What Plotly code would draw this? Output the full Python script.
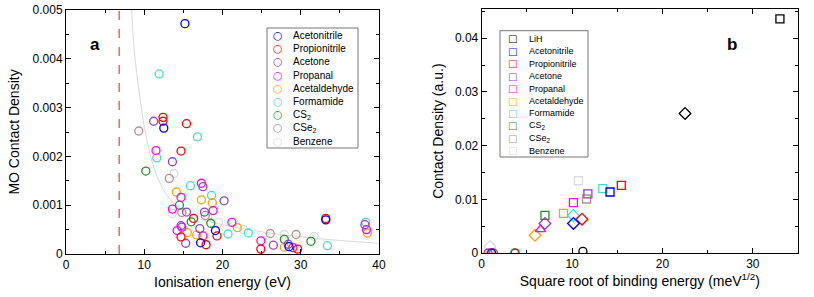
import plotly.graph_objects as go

# ---------------- Panel a: MO contact density vs ionisation energy ----------------
names_a = ["Acetonitrile", "Propionitrile", "Acetone", "Propanal", "Acetaldehyde",
           "Formamide", "CS<sub>2</sub>", "CSe<sub>2</sub>", "Benzene"]
colors = ["#0000ff", "#ff0000", "#8c44c8", "#ff00ff", "#ffa500",
          "#40e0d0", "#1f961f", "#bc8f8f", "#dcdcdc"]

acetonitrile_ie = [15.2, 12.5, 17.2, 19.1, 28.5, 33.2]
acetonitrile_mo = [0.00472, 0.00258, 0.00023, 0.00048, 0.00015, 0.00070]
propionitrile_ie = [12.4, 12.4, 15.4, 14.7, 16.3, 14.7, 17.9, 19.3, 24.9, 29.6, 33.2]
propionitrile_mo = [0.00280, 0.00272, 0.00267, 0.00211, 0.00073, 0.00035, 0.00019,
                    0.00037, 0.00010, 0.00010, 0.00073]
acetone_ie = [11.2, 13.6, 17.5, 20.2, 15.4, 17.7, 14.7, 17.1, 15.3, 26.5, 28.4, 38.2]
acetone_mo = [0.00272, 0.00189, 0.00138, 0.00109, 0.00086, 0.00086, 0.00058, 0.00052,
              0.00022, 0.00018, 0.00020, 0.00060]
propanal_ie = [11.5, 17.3, 14.7, 13.6, 18.8, 14.2, 14.8, 17.5, 21.2, 24.9, 29.0, 38.4]
propanal_mo = [0.00212, 0.00145, 0.00116, 0.00092, 0.00089, 0.00048, 0.00055, 0.00037,
               0.00065, 0.00027, 0.00013, 0.00050]
acetaldehyde_ie = [14.1, 17.3, 18.7, 15.5, 16.7, 21.9, 27.9, 38.5]
acetaldehyde_mo = [0.00127, 0.00111, 0.00105, 0.00044, 0.00039, 0.00054, 0.00014, 0.00043]
formamide_ie = [11.9, 16.8, 11.6, 15.9, 18.6, 20.7, 23.3, 33.4, 38.3]
formamide_mo = [0.00369, 0.00240, 0.00197, 0.00140, 0.00120, 0.00041, 0.00043, 0.00017, 0.00065]
cs2_ie = [10.2, 14.5, 16.0, 18.5, 27.9, 31.3]
cs2_mo = [0.00170, 0.00100, 0.00066, 0.00063, 0.00030, 0.00026]
cse2_ie = [9.3, 13.2, 14.8, 17.8, 26.1, 29.4]
cse2_mo = [0.00252, 0.00155, 0.00085, 0.00079, 0.00042, 0.00040]
benzene_ie = [13.8, 13.6, 18.1, 19.5, 22.7, 27.9, 31.7]
benzene_mo = [0.00165, 0.00083, 0.00075, 0.00065, 0.00050, 0.00040, 0.00036]

# guide curve
guide_ie = [8.4, 8.7, 9.45, 10.3, 11.5, 13.3, 16.3, 20.0, 24.8, 29.0, 34.0, 40.0]
guide_mo = [0.0050, 0.0042, 0.0032, 0.00236, 0.00165, 0.00112, 0.00077, 0.00060,
            0.00046, 0.00037, 0.00029, 0.00022]
threshold_ie = 6.8

# ---------------- Panel b: contact density vs sqrt binding energy ----------------
names_b = ["LiH"] + names_a
colors_b = ["#000000"] + colors
# squares
sq_x = [33.0, 14.2, 15.45, 11.75, 10.15, 9.05, 13.4, 7.0, 11.6, 10.7]
sq_y = [0.0436, 0.01136, 0.0126, 0.0110, 0.00937, 0.0074, 0.0120, 0.0070, 0.01006, 0.01346]
# diamonds (propanal is a triangle)
dia_x = [22.5, 10.15, 11.1, 7.0, 6.5, 5.9, 10.15, None, None, 0.9]
dia_y = [0.0260, 0.0055, 0.0063, 0.0055, 0.0044, 0.0033, 0.0070, None, None, 0.0012]
dia_symbol = ["diamond-open", "diamond-open", "diamond-open", "diamond-open", "triangle-up-open",
              "diamond-open", "diamond-open", "diamond-open", "diamond-open", "diamond-open"]
# circles
circ_x = [11.2, 1.1, 3.7, 1.3, 0.7, 1.0, 3.6, None, None, None]
circ_y = [0.0003, 0.0, 0.0, 0.0, 0.0, 0.0, 0.0, None, None, None]

W, H = 814, 297
FONT = "Liberation Sans, Arial, Helvetica, sans-serif"

fig = go.Figure()

series_a = [(acetonitrile_ie, acetonitrile_mo), (propionitrile_ie, propionitrile_mo),
            (acetone_ie, acetone_mo), (propanal_ie, propanal_mo),
            (acetaldehyde_ie, acetaldehyde_mo), (formamide_ie, formamide_mo),
            (cs2_ie, cs2_mo), (cse2_ie, cse2_mo), (benzene_ie, benzene_mo)]

fig.add_trace(go.Scatter(x=guide_ie, y=guide_mo, mode="lines", line=dict(color="#dadada", width=1, shape="spline"),
                         showlegend=False, xaxis="x", yaxis="y", hoverinfo="skip"))
for i in reversed(range(len(series_a))):
    xs, ys = series_a[i]
    fig.add_trace(go.Scatter(x=xs, y=ys, mode="markers", name=names_a[i],
                             marker=dict(symbol="circle-open", size=8, color=colors[i], line=dict(width=1.3, color=colors[i])),
                             showlegend=False, xaxis="x", yaxis="y"))

for i in reversed(range(len(names_b))):
    c = colors_b[i]
    fig.add_trace(go.Scatter(x=[sq_x[i]], y=[sq_y[i]], mode="markers", name=names_b[i],
                             marker=dict(symbol="square-open", size=8, color=c, line=dict(width=1.3, color=c)),
                             showlegend=False, xaxis="x2", yaxis="y2"))
    if dia_x[i] is not None:
        fig.add_trace(go.Scatter(x=[dia_x[i]], y=[dia_y[i]], mode="markers", name=names_b[i],
                                 marker=dict(symbol=dia_symbol[i], size=9, color=c, line=dict(width=1.3, color=c)),
                                 showlegend=False, xaxis="x2", yaxis="y2"))
    if circ_x[i] is not None:
        fig.add_trace(go.Scatter(x=[circ_x[i]], y=[circ_y[i]], mode="markers", name=names_b[i],
                                 marker=dict(symbol="circle-open", size=8, color=c, line=dict(width=1.3, color=c)),
                                 showlegend=False, xaxis="x2", yaxis="y2"))


def px2x(p):
    return p / W


def py2y(p):
    return 1 - p / H


axis_common = dict(showline=True, linecolor="black", linewidth=1, mirror="ticks", ticks="inside",
                   ticklen=5, tickcolor="black", tickwidth=1, showgrid=False, zeroline=False,
                   automargin=False,
                   tickfont=dict(family=FONT, size=12, color="black"),
                   minor=dict(ticks="inside", ticklen=3, tickcolor="black", tickwidth=1))

fig.update_layout(
    width=W, height=H, margin=dict(l=0, r=0, t=0, b=0, autoexpand=False),
    paper_bgcolor="white", plot_bgcolor="white", showlegend=False,
    font=dict(family=FONT, size=12, color="black"),
    xaxis=dict(axis_common, domain=[px2x(66), px2x(379)], range=[0, 40], dtick=10,
               minor=dict(axis_common["minor"], dtick=5), anchor="y",
               title=dict(text="Ionisation energy (eV)", font=dict(size=14), standoff=5)),
    yaxis=dict(axis_common, domain=[py2y(254), py2y(10)], range=[0, 0.005], dtick=0.001,
               minor=dict(axis_common["minor"], dtick=0.0005), anchor="x",
               title=dict(text="MO Contact Density", font=dict(size=14), standoff=9)),
    xaxis2=dict(axis_common, domain=[px2x(481.7), px2x(798)], range=[0, 35], dtick=10,
                minor=dict(axis_common["minor"], dtick=5), anchor="y2",
                title=dict(text="Square root of binding energy (meV<sup>1/2</sup>)", font=dict(size=14), standoff=5)),
    yaxis2=dict(axis_common, domain=[py2y(253), py2y(9.3)], range=[0, 0.0454], dtick=0.01,
                minor=dict(axis_common["minor"], dtick=0.005), anchor="x2",
                title=dict(text="Contact Density (a.u.)", font=dict(size=14), standoff=8)),
)

fig.add_shape(type="line", xref="x", yref="y domain", x0=threshold_ie, x1=threshold_ie, y0=0, y1=1,
              line=dict(color="#f06868", width=1.5, dash="dash"))

# legend boxes
fig.add_shape(type="rect", xref="paper", yref="paper", x0=px2x(267), x1=px2x(358), y0=py2y(148), y1=py2y(28),
              line=dict(color="#777777", width=1), fillcolor="white", layer="above")
fig.add_shape(type="rect", xref="paper", yref="paper", x0=px2x(500), x1=px2x(588), y0=py2y(157), y1=py2y(30.7),
              line=dict(color="#777777", width=1), fillcolor="white", layer="above")

ann = []
ann.append(dict(text="<b>a</b>", x=px2x(95), y=py2y(44), xref="paper", yref="paper", showarrow=False,
                xanchor="center", yanchor="middle", font=dict(family=FONT, size=17, color="black")))
ann.append(dict(text="<b>b</b>", x=px2x(732), y=py2y(44), xref="paper", yref="paper", showarrow=False,
                xanchor="center", yanchor="middle", font=dict(family=FONT, size=17, color="black")))
for k, nm in enumerate(names_a):
    yc = 35.5 + 13.2 * k
    ann.append(dict(text="○", x=px2x(278), y=py2y(yc), xref="paper", yref="paper", showarrow=False,
                    xanchor="center", yanchor="middle", borderpad=0,
                    font=dict(family="DejaVu Sans", size=11, color=colors[k])))
    ann.append(dict(text=nm, x=px2x(292), y=py2y(yc), xref="paper", yref="paper", showarrow=False,
                    xanchor="left", yanchor="middle", borderpad=0,
                    font=dict(family=FONT, size=10, color="black")))
for k, nm in enumerate(names_b):
    yc = 39 + 12.4 * k
    ann.append(dict(text="□", x=px2x(512.3), y=py2y(yc), xref="paper", yref="paper", showarrow=False,
                    xanchor="center", yanchor="middle", borderpad=0,
                    font=dict(family="DejaVu Sans", size=10, color=colors_b[k])))
    ann.append(dict(text=nm, x=px2x(528), y=py2y(yc), xref="paper", yref="paper", showarrow=False,
                    xanchor="left", yanchor="middle", borderpad=0,
                    font=dict(family=FONT, size=9, color="black")))
fig.update_layout(annotations=ann)

fig.write_html("out.html", config={"displayModeBar": False},
               post_script="document.body.style.margin='0px';document.body.style.padding='0px';")
